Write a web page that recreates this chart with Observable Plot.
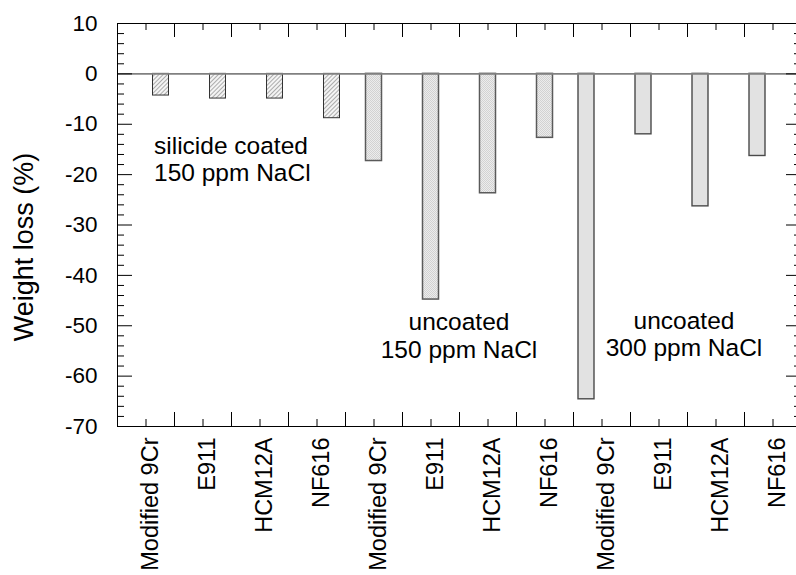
<!DOCTYPE html>
<html>
<head>
<meta charset="utf-8">
<script src="https://cdn.jsdelivr.net/npm/d3@7"></script>
<script src="https://cdn.jsdelivr.net/npm/@observablehq/plot@0.6"></script>
<style>
  html, body { margin: 0; padding: 0; overflow: hidden; background: #fff; }
  svg { max-width: none !important; }
</style>
</head>
<body>
<div id="chart"></div>
<script>
// ---- data ----
const alloys = ["Modified 9Cr", "E911", "HCM12A", "NF616"];
const conditions = ["silicide coated 150 ppm NaCl", "uncoated 150 ppm NaCl", "uncoated 300 ppm NaCl"];
const coated150 = [-4.3, -4.9, -4.9, -8.8];
const uncoated150 = [-17.3, -44.8, -23.7, -12.7];
const uncoated300 = [-64.6, -12.0, -26.3, -16.3];
const yTicks = [10, 0, -10, -20, -30, -40, -50, -60, -70];
const yMinorStep = 2;
const annotations = ["silicide coated\n150 ppm NaCl", "uncoated\n150 ppm NaCl", "uncoated\n300 ppm NaCl"];

// ---- table built from the arrays ----
const series = [coated150, uncoated150, uncoated300];
const rows = [];
series.forEach((vals, g) => vals.forEach((v, a) => rows.push({key: g * 4 + a, group: g, alloy: alloys[a], condition: conditions[g], value: v})));
const keys = rows.map(d => d.key);

// ---- layout ----
const width = 810, height = 575;
const marginLeft = 117, marginRight = 9, marginTop = 23, marginBottom = 149;
const frameW = width - marginLeft - marginRight;
const frameH = height - marginTop - marginBottom;
const step = frameW / keys.length;
const font = "'Liberation Sans', Arial, Helvetica, sans-serif";

const yMinor = d3.range(-70, 10 + 0.001, yMinorStep).filter(v => !yTicks.includes(v));
const groupStyle = [
  {fill: "url(#hatch)", stroke: "#333", strokeWidth: 1, dx: 15},
  {fill: "url(#dots)", stroke: "#5a5a5a", strokeWidth: 1.5, dx: 0},
  {fill: "#e2e2e2", stroke: "#4a4a4a", strokeWidth: 1.4, dx: -15.5}
];

const marks = [];
groupStyle.forEach((s, g) => {
  marks.push(Plot.barY(rows.filter(d => d.group === g), {
    x: "key", y: "value", insetLeft: 20.5, insetRight: 20.5, ...s
  }));
});
marks.push(Plot.ruleY([0], {stroke: "#808080", strokeWidth: 1.6}));

// ticks inward on all sides
marks.push(Plot.tickY(yTicks, {y: d => d, insetRight: frameW - 15, stroke: "#000"}));
marks.push(Plot.tickY(yMinor, {y: d => d, insetRight: frameW - 7, stroke: "#000"}));
marks.push(Plot.tickY(yTicks, {y: d => d, insetLeft: frameW - 15, stroke: "#000"}));
marks.push(Plot.tickY(yMinor, {y: d => d, insetLeft: frameW - 7, stroke: "#000"}));
marks.push(Plot.tickX(keys, {x: d => d, insetTop: frameH - 7, stroke: "#000"}));
marks.push(Plot.tickX(keys, {x: d => d, insetBottom: frameH - 7, stroke: "#000"}));
marks.push(Plot.tickX(keys.slice(0, -1), {x: d => d, dx: step / 2, insetTop: frameH - 14, stroke: "#000"}));
marks.push(Plot.tickX(keys.slice(0, -1), {x: d => d, dx: step / 2, insetBottom: frameH - 14, stroke: "#000"}));

marks.push(Plot.frame({stroke: "#000", strokeWidth: 1}));

marks.push(Plot.axisY({ticks: yTicks, tickSize: 0, tickPadding: 20, tickFormat: d => String(d), fontSize: 22.5, label: null, fill: "#000"}));
marks.push(Plot.axisX({tickSize: 0, tickPadding: 11, tickRotate: -90, dx: 4, tickFormat: k => rows[k].alloy, fontSize: 23.5, label: null, fill: "#000"}));

marks.push(Plot.text(["Weight loss (%)"], {frameAnchor: "left", rotate: -90, dx: -93, dy: 22, fontSize: 27, textAnchor: "middle", fill: "#000"}));

// annotations
const annFont = 24.5, annLH = 27.5 / 24.5;
marks.push(Plot.text([annotations[0]], {x: () => 0, y: () => -21.3, dx: 8, textAnchor: "start", lineAnchor: "bottom", lineHeight: annLH, fontSize: annFont, fill: "#000"}));
marks.push(Plot.text([annotations[1]], {x: () => 5, y: () => -56.4, dx: 28, textAnchor: "middle", lineAnchor: "bottom", lineHeight: annLH, fontSize: annFont, fill: "#000"}));
marks.push(Plot.text([annotations[2]], {x: () => 9, y: () => -56.1, dx: 25, textAnchor: "middle", lineAnchor: "bottom", lineHeight: annLH, fontSize: annFont, fill: "#000"}));

const svg = Plot.plot({
  width, height, marginLeft, marginRight, marginTop, marginBottom,
  style: {fontFamily: font, background: "#fff", maxWidth: "none", overflow: "visible"},
  x: {type: "band", domain: keys, padding: 0, axis: null},
  y: {domain: [-70, 10], axis: null},
  marks
});

// fill patterns
const defs = d3.select(svg).insert("defs", ":first-child");
const hatch = defs.append("pattern").attr("id", "hatch").attr("patternUnits", "userSpaceOnUse")
  .attr("width", 3).attr("height", 3).attr("patternTransform", "rotate(45)");
hatch.append("rect").attr("width", 3).attr("height", 3).attr("fill", "#f4f4f4");
hatch.append("line").attr("x1", 1.5).attr("y1", 0).attr("x2", 1.5).attr("y2", 3).attr("stroke", "#999").attr("stroke-width", 0.8);
const dots = defs.append("pattern").attr("id", "dots").attr("patternUnits", "userSpaceOnUse")
  .attr("width", 2).attr("height", 2);
dots.append("rect").attr("width", 2).attr("height", 2).attr("fill", "#ececec");
[[0, 0], [1, 1]].forEach(([px, py]) =>
  dots.append("rect").attr("x", px).attr("y", py).attr("width", 1).attr("height", 1).attr("fill", "#d2d2d2"));

document.getElementById("chart").appendChild(svg);
</script>
</body>
</html>
